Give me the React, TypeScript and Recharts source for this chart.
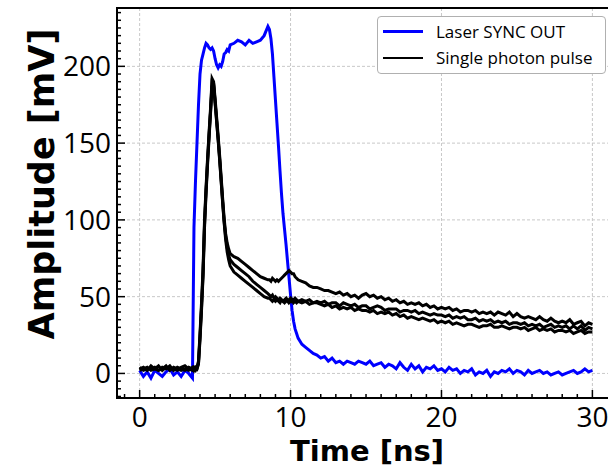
import React from 'react';
import { LineChart, Line, XAxis, YAxis, CartesianGrid, Legend, ReferenceArea, Label } from 'recharts';

// Time axis (ns)
const time = [
  0, 0.25, 0.5, 0.75, 1, 1.25, 1.5, 1.75, 2, 2.25, 2.5, 2.75, 3, 3.25, 3.5,
  3.6, 3.7, 3.8, 3.9, 4, 4.1, 4.2, 4.3, 4.4, 4.5, 4.6, 4.7, 4.8, 4.9, 5, 5.1, 5.2, 5.3, 5.4, 5.5, 5.6, 5.7, 5.8, 5.9, 6,
  6.25, 6.5, 6.75, 7, 7.25, 7.5, 7.75, 8, 8.25, 8.5,
  8.6, 8.7, 8.8, 8.9, 9, 9.1, 9.2, 9.3, 9.4, 9.5, 9.6, 9.7, 9.8, 9.9, 10, 10.1, 10.2, 10.3, 10.4, 10.5,
  10.75,
  11, 11.25, 11.5, 11.75,
  12, 12.25, 12.5, 12.75,
  13, 13.25, 13.5, 13.75,
  14, 14.25, 14.5, 14.75,
  15, 15.25, 15.5, 15.75,
  16, 16.25, 16.5, 16.75,
  17, 17.25, 17.5, 17.75,
  18, 18.25, 18.5, 18.75,
  19, 19.25, 19.5, 19.75,
  20, 20.25, 20.5, 20.75,
  21, 21.25, 21.5, 21.75,
  22, 22.25, 22.5, 22.75,
  23, 23.25, 23.5, 23.75,
  24, 24.25, 24.5, 24.75,
  25, 25.25, 25.5, 25.75,
  26, 26.25, 26.5, 26.75,
  27, 27.25, 27.5, 27.75,
  28, 28.25, 28.5, 28.75,
  29, 29.25, 29.5, 29.75,
  30,
];

// Laser SYNC OUT (mV)
const laserSync = [
  2, -2, 1, -3, 2, 0, -2, 1, 3, -1, 1, -2, 2, 0, -3,
  95, 125, 150, 175, 195, 204, 208, 212, 215, 214, 212, 211, 212, 210, 205, 201, 199, 201, 200, 203, 208, 209, 211, 210, 214,
  215, 217, 216, 214, 217, 215, 216, 217, 220, 226,
  224, 218, 208, 193, 178, 163, 148, 132, 117, 104, 94, 84, 73, 62, 51, 41, 34, 29, 26, 23,
  19,
  17, 15, 13, 12,
  10, 11, 8, 10,
  7, 8, 6, 8,
  7, 6, 8, 7,
  6, 8, 5, 6,
  7, 4, 6, 5,
  3, 7, 4, 2,
  6, 3, 5, 1,
  4, 3, 5, 2,
  3, 1, 4, 2,
  3, 0, 2, 1,
  3, -1, 1, 0,
  2, -2, 1, 0,
  2, 1, 3, 0,
  2, 1, -1, 2,
  0, 1, 2, 0,
  1, -1, 0, 1,
  -1, 0, 1, 2,
  0, 1, 3, 1,
  2,
];

// Single photon pulse, three recorded traces (mV)
const pulseA = [
  3, 4, 2, 5, 3, 2, 4, 3, 5, 2, 4, 3, 2, 4, 3,
  3, 2, 4, 8, 26, 46, 68, 100, 121, 140, 157, 173, 192, 190, 179, 167, 155, 142, 128, 114, 101, 91, 85, 81, 78,
  76, 75, 73, 71, 69, 67, 65, 63, 62, 61,
  61, 60, 62, 61, 60, 61, 60, 61, 62, 63, 64, 65, 66, 67, 66, 65, 65, 63, 62, 61,
  60,
  59, 57, 56, 56,
  55, 54, 54, 53,
  52, 53, 51, 52,
  50, 51, 49, 51,
  52, 50, 51, 49,
  50, 48, 49, 47,
  48, 46, 47, 45,
  46, 45, 46, 44,
  45, 43, 44, 42,
  43, 42, 43, 41,
  42, 40, 41, 41,
  40, 41, 39, 40,
  39, 40, 38, 40,
  39, 38, 40, 37,
  39, 37, 36, 37,
  36, 35, 37, 35,
  34, 36, 34, 33,
  34, 33, 35, 32,
  33, 34, 31, 33,
  32,
];

const pulseB = [
  2, 3, 4, 2, 3, 5, 2, 4, 3, 3, 2, 4, 5, 3, 2,
  4, 3, 3, 7, 24, 43, 65, 97, 119, 138, 155, 171, 190, 189, 177, 165, 153, 140, 126, 112, 99, 89, 82, 77, 74,
  71, 69, 67, 65, 63, 60, 58, 56, 54, 52,
  51, 50, 51, 49, 50, 49, 48, 49, 48, 47, 48, 49, 47, 48, 49, 47, 48, 49, 48, 47,
  48,
  47, 48, 46, 47,
  46, 47, 45, 46,
  46, 44, 46, 45,
  44, 45, 43, 44,
  44, 42, 43, 44,
  43, 41, 42, 42,
  42, 40, 41, 41,
  40, 41, 39, 40,
  39, 38, 39, 38,
  38, 37, 38, 36,
  37, 36, 37, 35,
  35, 36, 34, 35,
  34, 35, 33, 34,
  33, 34, 32, 33,
  33, 32, 33, 31,
  32, 31, 32, 30,
  31, 32, 30, 31,
  30, 31, 29, 31,
  29, 31, 28, 30,
  29,
];

const pulseC = [
  4, 2, 3, 3, 4, 2, 3, 5, 2, 4, 3, 2, 3, 2, 4,
  2, 4, 3, 6, 22, 41, 63, 95, 117, 136, 153, 170, 187, 188, 176, 164, 152, 139, 125, 111, 98, 87, 79, 74, 70,
  66, 64, 62, 60, 58, 56, 54, 52, 50, 49,
  49, 48, 47, 48, 47, 48, 47, 46, 48, 47, 46, 47, 48, 46, 47, 48, 46, 47, 46, 47,
  46,
  47, 45, 46, 46,
  45, 44, 45, 43,
  44, 42, 43, 42,
  43, 41, 42, 41,
  41, 40, 41, 39,
  40, 39, 40, 38,
  39, 37, 38, 36,
  37, 36, 35, 36,
  35, 34, 35, 33,
  34, 33, 34, 32,
  33, 32, 31, 32,
  32, 31, 30, 31,
  31, 32, 30, 30,
  31, 30, 29, 30,
  30, 29, 30, 28,
  29, 30, 28, 29,
  28, 29, 27, 28,
  28, 27, 28, 26,
  27, 28, 26, 27,
  27,
];

const xTicks = [-1, 0, 1, 2, 3, 4, 5, 6, 7, 8, 9, 10, 11, 12, 13, 14, 15, 16, 17, 18, 19, 20, 21, 22, 23, 24, 25, 26, 27, 28, 29, 30];
const xMajor = [0, 10, 20, 30];
const yTicks = [
  -15, -10, -5, 0, 5, 10, 15, 20, 25, 30, 35, 40, 45, 50, 55, 60, 65, 70, 75, 80, 85, 90, 95, 100,
  105, 110, 115, 120, 125, 130, 135, 140, 145, 150, 155, 160, 165, 170, 175, 180, 185, 190, 195, 200,
  205, 210, 215, 220, 225, 230, 235,
];
const yMajor = [0, 50, 100, 150, 200];

const legendItems = [
  { label: 'Laser SYNC OUT', color: '#0000ff' },
  { label: 'Single photon pulse', color: '#000000' },
];

const data = time.map((t, i) => ({
  t,
  laser: laserSync[i],
  a: pulseA[i],
  b: pulseB[i],
  c: pulseC[i],
}));

const TICK_FONT = "'Open Sans', 'DejaVu Sans', sans-serif";
const TITLE_FONT = "'DejaVu Sans', sans-serif";

const YTick = (props: any) => {
  const { x, y, payload } = props;
  const v = payload.value;
  const major = yMajor.includes(v);
  return (
    <g>
      <line x1={x} x2={x + (major ? 8 : 4)} y1={y} y2={y} stroke="#000" strokeWidth={1.5} />
      {major && (
        <text x={x - 6} y={y + 10} textAnchor="end" fontFamily={TICK_FONT} fontSize={28} fill="#000">
          {v}
        </text>
      )}
    </g>
  );
};

const XTick = (props: any) => {
  const { x, y, payload } = props;
  const v = payload.value;
  const major = xMajor.includes(v);
  return (
    <g>
      <line x1={x} x2={x} y1={y} y2={y - (major ? 8 : 4)} stroke="#000" strokeWidth={1.5} />
      {major && (
        <text x={x} y={y + 28.5} textAnchor="middle" fontFamily={TICK_FONT} fontSize={28} fill="#000">
          {v}
        </text>
      )}
    </g>
  );
};

const LegendBox = () => (
  <div
    style={{
      border: '1px solid #b0b0b0',
      borderRadius: 4,
      background: '#fff',
      width: 229,
      height: 58,
      boxSizing: 'border-box',
      paddingTop: 1.5,
      fontFamily: TICK_FONT,
      fontSize: 17,
      color: '#000',
    }}
  >
    {legendItems.map((it) => (
      <div key={it.label} style={{ display: 'flex', alignItems: 'center', height: 26.4 }}>
        <span style={{ display: 'inline-block', width: 40, height: 2.5, background: it.color, marginLeft: 5, marginRight: 13 }} />
        <span style={{ whiteSpace: 'nowrap', lineHeight: '20px' }}>{it.label}</span>
      </div>
    ))}
  </div>
);

export default function App() {
  return (
    <div style={{ position: 'absolute', left: 0, top: 0, width: 608, height: 472, overflow: 'hidden', background: '#fff' }}>
      <LineChart width={612} height={472} data={data} margin={{ top: 8, right: 3, bottom: 0, left: 0 }}>
        <CartesianGrid
          stroke="#c8c8c8"
          strokeDasharray="3 2"
          horizontalValues={yMajor}
          verticalValues={xMajor}
        />
        <XAxis
          type="number"
          dataKey="t"
          domain={[-1.5, 31.1]}
          allowDataOverflow
          ticks={xTicks}
          interval={0}
          tickSize={0}
          tickMargin={0}
          tickLine={false}
          axisLine={false}
          height={74}
          tick={<XTick />}
        >
          <Label
            content={() => (
              <text x={367} y={460.5} textAnchor="middle" fontFamily={TITLE_FONT} fontWeight="bold" fontSize={29} fill="#000">
                Time [ns]
              </text>
            )}
          />
        </XAxis>
        <YAxis
          type="number"
          domain={[-16, 238]}
          allowDataOverflow
          ticks={yTicks}
          interval={0}
          tickSize={0}
          tickMargin={0}
          tickLine={false}
          axisLine={false}
          width={117}
          tick={<YTick />}
        >
          <Label
            content={() => (
              <text
                x={54}
                y={184}
                transform="rotate(-90 54 184)"
                textAnchor="middle"
                fontFamily={TITLE_FONT}
                fontWeight="bold"
                fontSize={35}
                fill="#000"
              >
                Amplitude [mV]
              </text>
            )}
          />
        </YAxis>
        <Line type="linear" dataKey="laser" stroke="#0000ff" strokeWidth={3} dot={false} isAnimationActive={false} />
        <Line type="linear" dataKey="a" stroke="#000000" strokeWidth={3} dot={false} isAnimationActive={false} />
        <Line type="linear" dataKey="b" stroke="#000000" strokeWidth={3} dot={false} isAnimationActive={false} />
        <Line type="linear" dataKey="c" stroke="#000000" strokeWidth={3} dot={false} isAnimationActive={false} />
        <ReferenceArea x1={-1.5} x2={31.1} y1={-16} y2={238} fill="none" stroke="#000" strokeWidth={2} />
        <Legend
          layout="horizontal"
          verticalAlign="middle"
          align="center"
          wrapperStyle={{ left: 377, top: 16, width: 230, height: 58 }}
          content={() => <LegendBox />}
        />
      </LineChart>
    </div>
  );
}
